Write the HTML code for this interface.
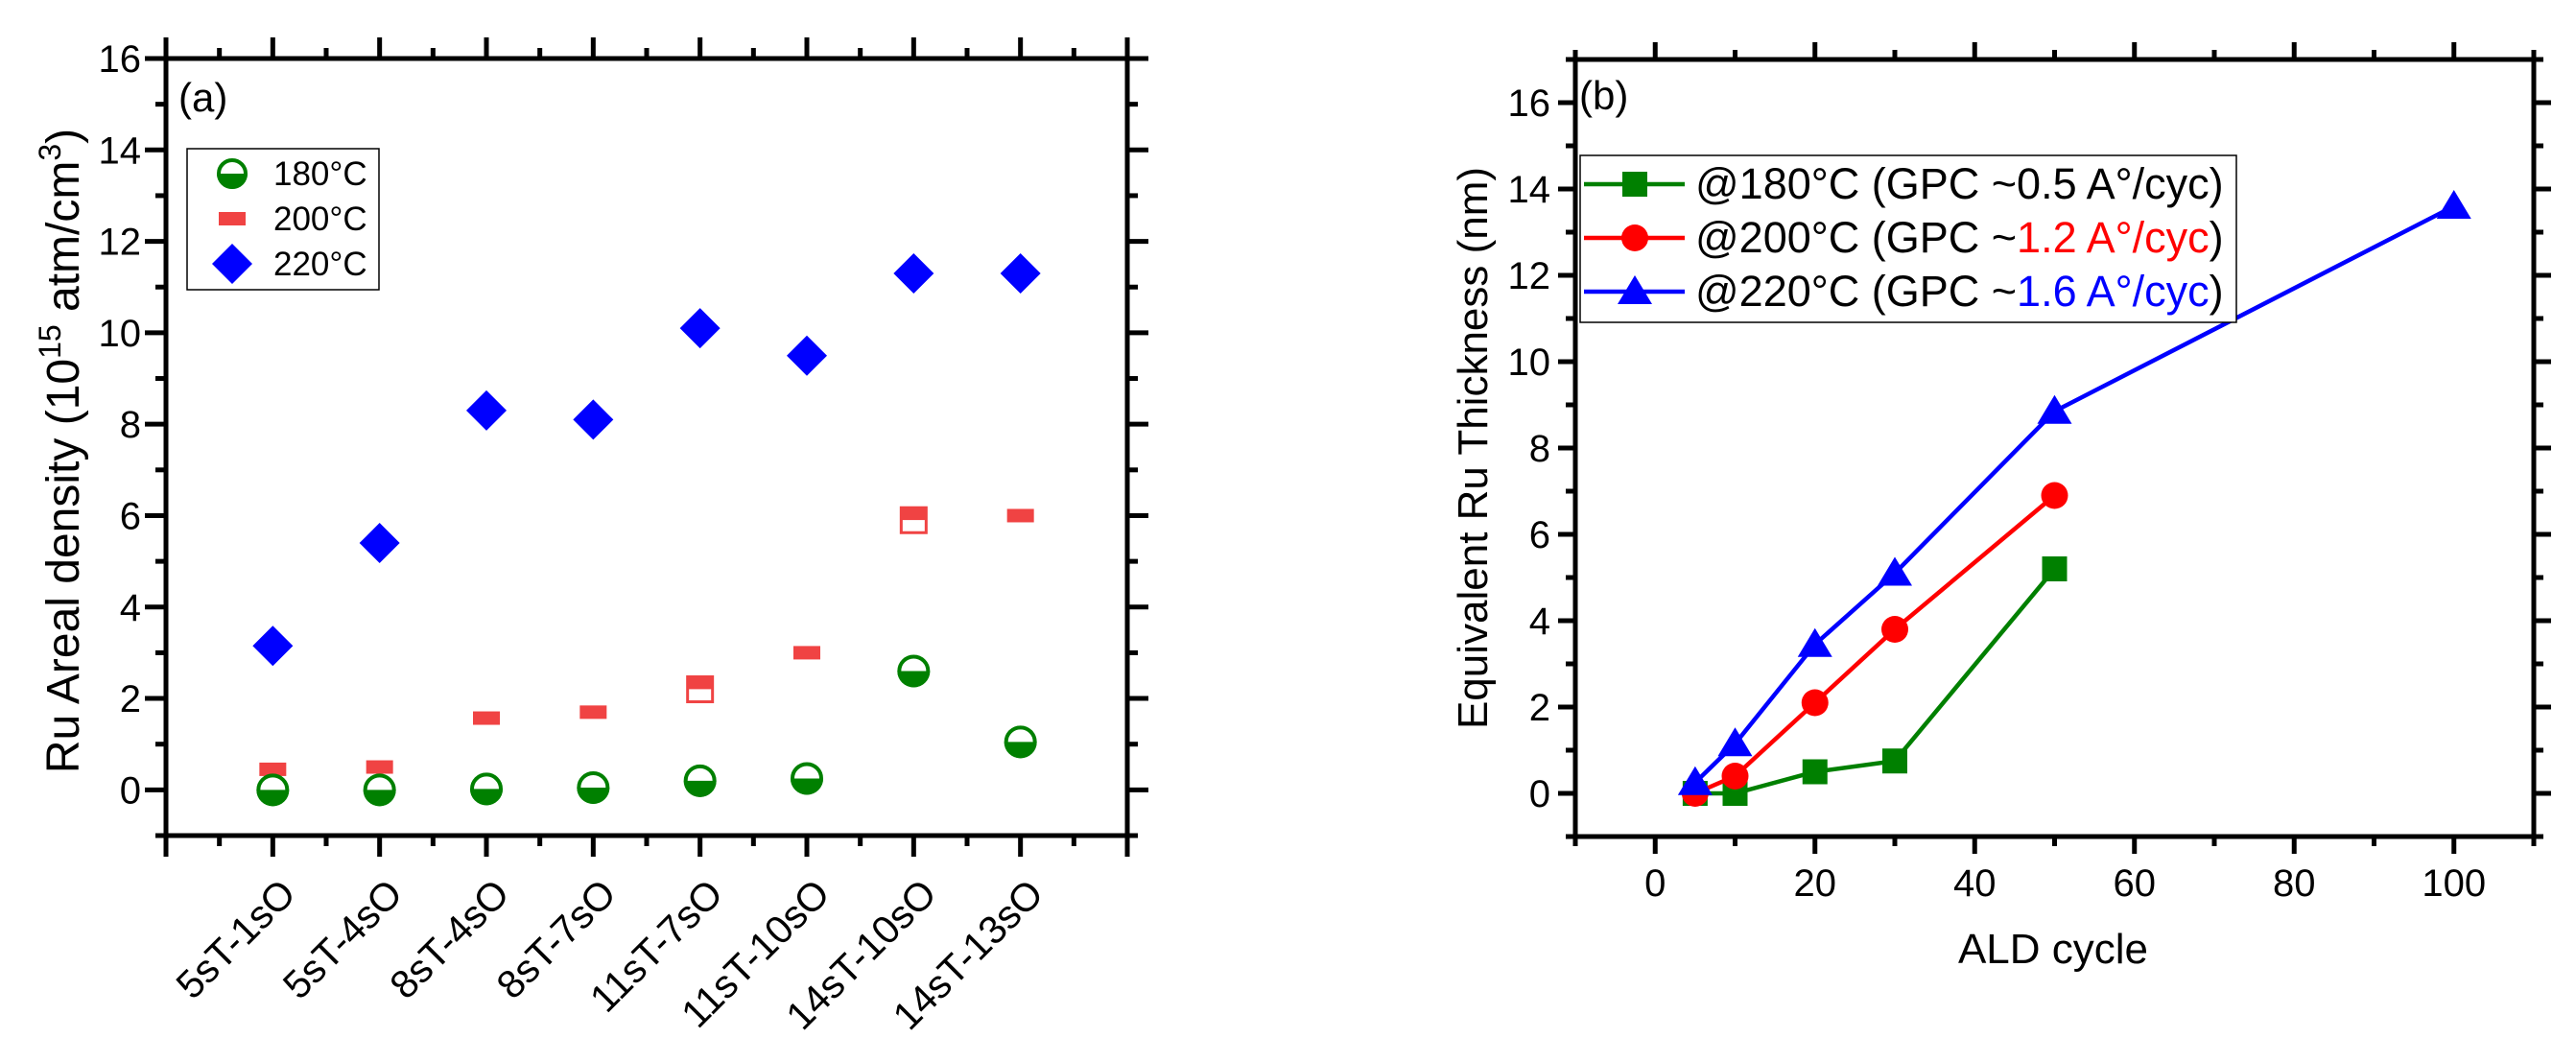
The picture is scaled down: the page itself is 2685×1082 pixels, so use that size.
<!DOCTYPE html>
<html><head><meta charset="utf-8">
<style>
html,body{margin:0;padding:0;background:#fff;}
svg{display:block;font-family:"Liberation Sans",Arial,sans-serif;}
</style></head>
<body>
<svg id="fig" width="2685" height="1082" viewBox="0 0 2685 1082" xmlns="http://www.w3.org/2000/svg">
<g id="pa"></g>
<g id="pb"></g>
</svg>
<script>
// Panel (a) data
const catsA = ["5sT-1sO","5sT-4sO","8sT-4sO","8sT-7sO","11sT-7sO","11sT-10sO","14sT-10sO","14sT-13sO"];
const a180 = [0, 0, 0.02, 0.05, 0.2, 0.25, 2.6, 1.05];
const a200 = [0.45, 0.5, 1.57, 1.7, 2.35, 3.0, 6.05, 6.0];
const a200openIdx = [4, 6];
const a200open = [2.2, 5.9];
const a220 = [3.15, 5.4, 8.3, 8.1, 10.1, 9.5, 11.3, 11.3];
const yTicksA = [0, 2, 4, 6, 8, 10, 12, 14, 16];
// Panel (b) data
const bX180 = [5, 10, 20, 30, 50];
const bY180 = [0, 0, 0.5, 0.75, 5.2];
const bX200 = [5, 10, 20, 30, 50];
const bY200 = [0, 0.4, 2.1, 3.8, 6.9];
const bX220 = [5, 10, 20, 30, 50, 100];
const bY220 = [0.25, 1.15, 3.45, 5.1, 8.85, 13.6];
const xTicksB = [0, 20, 40, 60, 80, 100];
const yTicksB = [0, 2, 4, 6, 8, 10, 12, 14, 16];

const NS = "http://www.w3.org/2000/svg";
function mk(parent, tag, attrs, text){
  const e = document.createElementNS(NS, tag);
  for (const k in attrs) e.setAttribute(k, attrs[k]);
  if (text !== undefined) e.textContent = text;
  parent.appendChild(e);
  return e;
}
const GREEN="#008000", RED="#ff0000", PINK="#f04343", BLUE="#0000ff";

// ---------- Panel A ----------
const pa = document.getElementById("pa");
const A = {l:173, r:1175, t:61, b:871, ymin:-1, ymax:16, xmin:0, xmax:9};
const axA = i => A.l + (i - A.xmin) / (A.xmax - A.xmin) * (A.r - A.l);
const ayA = v => A.b - (v - A.ymin) / (A.ymax - A.ymin) * (A.b - A.t);

let fr = mk(pa, "rect", {x:A.l, y:A.t, width:A.r-A.l, height:A.b-A.t, fill:"none", stroke:"#000", "stroke-width":5});


for (let v = -1; v <= 16; v++) {
  const y = ayA(v), major = v % 2 === 0 && v >= 0, len = major ? 22 : 11;
  let t1 = mk(pa, "line", {x1:A.l-len, y1:y, x2:A.l, y2:y, stroke:"#000", "stroke-width":5});
  
  
  let t2 = mk(pa, "line", {x1:A.r, y1:y, x2:A.r+len, y2:y, stroke:"#000", "stroke-width":5});
  
  
}
yTicksA.forEach(v => {
  let t = mk(pa, "text", {x:147, y:ayA(v)+14, "text-anchor":"end", "font-size":40}, String(v));
  
  
});
for (let h = 0; h <= 18; h++) {
  const i = h/2, x = axA(i), len = h % 2 === 0 ? 22 : 11;
  let t1 = mk(pa, "line", {x1:x, y1:A.b, x2:x, y2:A.b+len, stroke:"#000", "stroke-width":5});
  
  
  let t2 = mk(pa, "line", {x1:x, y1:A.t-len, x2:x, y2:A.t, stroke:"#000", "stroke-width":5});
  
  
}
catsA.forEach((c, k) => {
  const x = axA(k+1) + 26, y = 934;
  let t = mk(pa, "text", {x:x, y:y, "text-anchor":"end", "font-size":41, transform:`rotate(-45 ${x} ${y})`}, c);
  
  
});
let yt = mk(pa, "text", {x:0, y:0, "text-anchor":"middle", "font-size":48, transform:"translate(82 470) rotate(-90)"});


yt.innerHTML = 'Ru Areal density (10<tspan font-size="32" dy="-19">15</tspan><tspan dy="19"> atm/cm</tspan><tspan font-size="32" dy="-19">3</tspan><tspan dy="19">)</tspan>';
let la = mk(pa, "text", {x:186, y:116, "font-size":42}, "(a)");



function halfCircle(g, cx, cy, r, name){
  const grp = mk(g, "g", {});
  
  
  mk(grp, "path", {d:`M ${cx-r} ${cy} A ${r} ${r} 0 0 0 ${cx+r} ${cy} Z`, fill:GREEN});
  mk(grp, "circle", {cx:cx, cy:cy, r:r-2, fill:"none", stroke:GREEN, "stroke-width":4});
}
function diamond(g, cx, cy, s, name){
  const d = mk(g, "path", {d:`M ${cx} ${cy-s} L ${cx+s} ${cy} L ${cx} ${cy+s} L ${cx-s} ${cy} Z`, fill:BLUE});
  
  
}
function redRect(g, cx, cy, name){
  const d = mk(g, "rect", {x:cx-14, y:cy-7, width:28, height:14, fill:PINK});
  
  
}
a220.forEach((v,k) => diamond(pa, axA(k+1), ayA(v), 21, 'point-220c'));
a200openIdx.forEach((idx,k) => {
  const cx = axA(idx+1), cy = ayA(a200open[k]);
  const grp = mk(pa, "g", {});
  
  
  mk(grp, "rect", {x:cx-13, y:cy-13, width:26, height:26, fill:"#fff", stroke:PINK, "stroke-width":3});
  mk(grp, "rect", {x:cx-14, y:cy-14, width:28, height:13, fill:PINK});
});
a200.forEach((v,k) => redRect(pa, axA(k+1), ayA(v), 'point-200c'));
a180.forEach((v,k) => halfCircle(pa, axA(k+1), ayA(v), 17, 'point-180c'));
const lgA = mk(pa, "g", {});


mk(lgA, "rect", {x:195, y:155, width:200, height:147, fill:"#fff", stroke:"#000", "stroke-width":1.5});
halfCircle(lgA, 242, 181, 16, 'legend-marker-180c');
redRect(lgA, 242, 228, 'legend-marker-200c');
diamond(lgA, 242, 275, 21, 'legend-marker-220c');
[["180°C",181],["200°C",228],["220°C",275]].forEach(([s,y]) => {
  let t = mk(lgA, "text", {x:285, y:y+12, "font-size":35}, s);
  
  
});

// ---------- Panel B ----------
const pb = document.getElementById("pb");
const B = {l:1642, r:2641, t:62, b:872, xmin:-10, xmax:110, ymin:-1, ymax:17};
const bx = v => B.l + (v - B.xmin) / (B.xmax - B.xmin) * (B.r - B.l);
const by = v => B.b - (v - B.ymin) / (B.ymax - B.ymin) * (B.b - B.t);
let frb = mk(pb, "rect", {x:B.l, y:B.t, width:B.r-B.l, height:B.b-B.t, fill:"none", stroke:"#000", "stroke-width":5});


for (let v = -1; v <= 17; v++) {
  const y = by(v), major = v % 2 === 0 && v >= 0, len = major ? 18 : 10;
  let t1 = mk(pb, "line", {x1:B.l-len, y1:y, x2:B.l, y2:y, stroke:"#000", "stroke-width":5});
  
  
  let t2 = mk(pb, "line", {x1:B.r, y1:y, x2:B.r+len, y2:y, stroke:"#000", "stroke-width":5});
  
  
}
yTicksB.forEach(v => {
  let t = mk(pb, "text", {x:1616, y:by(v)+14, "text-anchor":"end", "font-size":40}, String(v));
  
  
});
for (let v = -10; v <= 110; v += 10) {
  const x = bx(v), len = v % 20 === 0 ? 18 : 10;
  let t1 = mk(pb, "line", {x1:x, y1:B.b, x2:x, y2:B.b+len, stroke:"#000", "stroke-width":5});
  
  
  let t2 = mk(pb, "line", {x1:x, y1:B.t-len, x2:x, y2:B.t, stroke:"#000", "stroke-width":5});
  
  
}
xTicksB.forEach(v => {
  let t = mk(pb, "text", {x:bx(v), y:934, "text-anchor":"middle", "font-size":40}, String(v));
  
  
});
let xtb = mk(pb, "text", {x:2140, y:1004, "text-anchor":"middle", "font-size":44}, "ALD cycle");


let ytb = mk(pb, "text", {x:0, y:0, "text-anchor":"middle", "font-size":44, transform:"translate(1550 467) rotate(-90)"}, "Equivalent Ru Thickness (nm)");


let lb = mk(pb, "text", {x:1646, y:114, "font-size":42}, "(b)");



function mark(g, type, cx, cy, color, name){
  let e;
  if (type === "sq") e = mk(g, "rect", {x:cx-13, y:cy-13, width:26, height:26, fill:color});
  else if (type === "ci") e = mk(g, "circle", {cx:cx, cy:cy, r:14, fill:color});
  else e = mk(g, "path", {d:`M ${cx} ${cy-17} L ${cx+18} ${cy+13} L ${cx-18} ${cy+13} Z`, fill:color});
  
  
}
function series(xs, ys, color, type, name){
  const pts = xs.map((x,k) => `${bx(x)},${by(ys[k])}`).join(" ");
  const ln = mk(pb, "polyline", {points:pts, fill:"none", stroke:color, "stroke-width":4.5});
  
  
  xs.forEach((x,k) => mark(pb, type, bx(x), by(ys[k]), color, 'point-' + name));
}
series(bX180, bY180, GREEN, "sq", "180c");
series(bX200, bY200, RED, "ci", "200c");
series(bX220, bY220, BLUE, "tr", "220c");

const lgB = mk(pb, "g", {});


mk(lgB, "rect", {x:1647, y:162, width:684, height:174, fill:"#fff", stroke:"#000", "stroke-width":1.5});
const rows = [[192, GREEN, "sq", "0.5 A°/cyc", "#000", "180"], [248, RED, "ci", "1.2 A°/cyc", RED, "200"], [304, BLUE, "tr", "1.6 A°/cyc", BLUE, "220"]];
rows.forEach(([y, c, type, val, vc, temp]) => {
  mk(lgB, "line", {x1:1651, y1:y, x2:1756, y2:y, stroke:c, "stroke-width":4.5});
  mark(lgB, type, 1704, y, c, 'legend-marker-' + temp);
  const t = mk(lgB, "text", {x:1767, y:y+15, "font-size":45});
  
  
  t.innerHTML = `@${temp}°C (GPC ~<tspan fill="${vc}">${val}</tspan>)`;
});
</script>
</body></html>
